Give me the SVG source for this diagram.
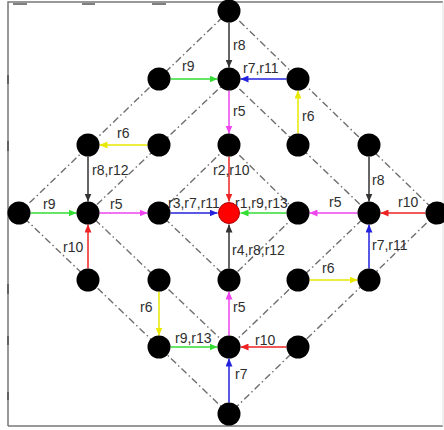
<svg xmlns="http://www.w3.org/2000/svg" width="444" height="430" viewBox="0 0 444 430">
<style>
.frame{fill:none;stroke:#777;stroke-width:1.5}
.tick{stroke:#555;stroke-width:1.6}
.dash{fill:none;stroke:#6e6e6e;stroke-width:1.4;stroke-dasharray:7,3,1.5,3}
.node{fill:#000}
.red{fill:#f00;stroke:#a00;stroke-width:1}
.e{stroke-width:1.5;fill:none}
.k{stroke:#333}.g{stroke:#33dd33}.y{stroke:#e8e800}.b{stroke:#2222dd}.m{stroke:#ee44ee}.r{stroke:#ee2222}
text{font-family:"Liberation Sans",Arial,sans-serif;font-size:14px;fill:#2e2e2e}
</style>
<defs>
<marker id="ak" markerWidth="8" markerHeight="7" refX="8" refY="3.5" orient="auto" markerUnits="userSpaceOnUse"><path d="M0,0 L8,3.5 L0,7 z" fill="#333"/></marker>
<marker id="ag" markerWidth="8" markerHeight="7" refX="8" refY="3.5" orient="auto" markerUnits="userSpaceOnUse"><path d="M0,0 L8,3.5 L0,7 z" fill="#33dd33"/></marker>
<marker id="ay" markerWidth="8" markerHeight="7" refX="8" refY="3.5" orient="auto" markerUnits="userSpaceOnUse"><path d="M0,0 L8,3.5 L0,7 z" fill="#e8e800"/></marker>
<marker id="ab" markerWidth="8" markerHeight="7" refX="8" refY="3.5" orient="auto" markerUnits="userSpaceOnUse"><path d="M0,0 L8,3.5 L0,7 z" fill="#2222dd"/></marker>
<marker id="am" markerWidth="8" markerHeight="7" refX="8" refY="3.5" orient="auto" markerUnits="userSpaceOnUse"><path d="M0,0 L8,3.5 L0,7 z" fill="#ee44ee"/></marker>
<marker id="ar" markerWidth="8" markerHeight="7" refX="8" refY="3.5" orient="auto" markerUnits="userSpaceOnUse"><path d="M0,0 L8,3.5 L0,7 z" fill="#ee2222"/></marker>
</defs>
<rect x="0" y="0" width="444" height="430" fill="#fff"/>
<g id="frame">
<path class="frame" d="M8,426 L8,2 L443,2"/>
<path class="frame" d="M8,426 L443,426"/>
<path d="M443,2 L443,426" stroke="#e4e4e4" stroke-width="1.2" fill="none"/>
<path class="tick" d="M13,4 H27 M82,4 H95 M152,4 H166 M8,75 V84 M8,141 V151 M8,284 V294 M8,336 V345 M8,392 V400"/>
</g>
<g id="grid">
<path class="dash" d="M229,145 L298,213 L229,280 L159,213 Z"/>
<path class="dash" d="M229,79 L369,213 L229,347 L88,213 Z"/>
<path class="dash" d="M229,11 L437,213 L229,414 L19,213 Z"/>
</g>
<g id="connectors">
<line class="e k" x1="229" y1="22.5" x2="229" y2="67.5" marker-end="url(#ak)"/>
<line class="e m" x1="229" y1="90.5" x2="229" y2="133.5" marker-end="url(#am)"/>
<line class="e y" x1="298" y1="133.5" x2="298" y2="90.5" marker-end="url(#ay)"/>
<line class="e k" x1="88" y1="156.5" x2="88" y2="201.5" marker-end="url(#ak)"/>
<line class="e r" x1="229" y1="156.5" x2="229" y2="201.5" marker-end="url(#ar)"/>
<line class="e k" x1="369" y1="156.5" x2="369" y2="201.5" marker-end="url(#ak)"/>
<line class="e k" x1="229" y1="268.5" x2="229" y2="224.5" marker-end="url(#ak)"/>
<line class="e b" x1="369" y1="268.5" x2="369" y2="224.5" marker-end="url(#ab)"/>
<line class="e r" x1="88" y1="268.5" x2="88" y2="224.5" marker-end="url(#ar)"/>
<line class="e y" x1="159" y1="291.5" x2="159" y2="335.5" marker-end="url(#ay)"/>
<line class="e m" x1="229" y1="335.5" x2="229" y2="291.5" marker-end="url(#am)"/>
<line class="e b" x1="229" y1="402.5" x2="229" y2="358.5" marker-end="url(#ab)"/>
<line class="e g" x1="170.5" y1="79" x2="217.5" y2="79" marker-end="url(#ag)"/>
<line class="e b" x1="286.5" y1="79" x2="240.5" y2="79" marker-end="url(#ab)"/>
<line class="e y" x1="147.5" y1="145" x2="99.5" y2="145" marker-end="url(#ay)"/>
<line class="e g" x1="30.5" y1="213" x2="76.5" y2="213" marker-end="url(#ag)"/>
<line class="e m" x1="99.5" y1="213" x2="147.5" y2="213" marker-end="url(#am)"/>
<line class="e b" x1="170.5" y1="213" x2="217.5" y2="213" marker-end="url(#ab)"/>
<line class="e g" x1="286.5" y1="213" x2="240.5" y2="213" marker-end="url(#ag)"/>
<line class="e m" x1="357.5" y1="213" x2="309.5" y2="213" marker-end="url(#am)"/>
<line class="e r" x1="425.5" y1="213" x2="380.5" y2="213" marker-end="url(#ar)"/>
<line class="e y" x1="309.5" y1="280" x2="357.5" y2="280" marker-end="url(#ay)"/>
<line class="e g" x1="170.5" y1="347" x2="217.5" y2="347" marker-end="url(#ag)"/>
<line class="e r" x1="286.5" y1="347" x2="240.5" y2="347" marker-end="url(#ar)"/>
</g>
<g id="labels">
<text x="233" y="50">r8</text>
<text x="182" y="71">r9</text>
<text x="243" y="73">r7,r11</text>
<text x="233" y="116">r5</text>
<text x="302" y="121">r6</text>
<text x="117" y="138">r6</text>
<text x="92" y="175">r8,r12</text>
<text x="213" y="175">r2,r10</text>
<text x="372" y="185">r8</text>
<text x="43" y="209">r9</text>
<text x="110" y="209">r5</text>
<text x="168" y="208">r3,r7,r11</text>
<text x="235" y="208">r1,r9,r13</text>
<text x="329" y="207">r5</text>
<text x="398" y="207">r10</text>
<text x="232" y="255">r4,r8,r12</text>
<text x="372" y="250">r7,r11</text>
<text x="322" y="273">r6</text>
<text x="63" y="252">r10</text>
<text x="140" y="312">r6</text>
<text x="175" y="343">r9,r13</text>
<text x="233" y="312">r5</text>
<text x="255" y="345">r10</text>
<text x="235" y="379">r7</text>
</g>
<g id="n1"><circle class="node" cx="229" cy="11" r="11.5"/></g>
<g id="n2"><circle class="node" cx="159" cy="79" r="11.5"/></g>
<g id="n3"><circle class="node" cx="229" cy="79" r="11.5"/></g>
<g id="n4"><circle class="node" cx="298" cy="79" r="11.5"/></g>
<g id="n5"><circle class="node" cx="88" cy="145" r="11.5"/></g>
<g id="n6"><circle class="node" cx="159" cy="145" r="11.5"/></g>
<g id="n7"><circle class="node" cx="229" cy="145" r="11.5"/></g>
<g id="n8"><circle class="node" cx="298" cy="145" r="11.5"/></g>
<g id="n9"><circle class="node" cx="369" cy="145" r="11.5"/></g>
<g id="n10"><circle class="node" cx="19" cy="213" r="11.5"/></g>
<g id="n11"><circle class="node" cx="88" cy="213" r="11.5"/></g>
<g id="n12"><circle class="node" cx="159" cy="213" r="11.5"/></g>
<g id="n13"><circle class="red" cx="229" cy="213" r="10.5"/></g>
<g id="n14"><circle class="node" cx="298" cy="213" r="11.5"/></g>
<g id="n15"><circle class="node" cx="369" cy="213" r="11.5"/></g>
<g id="n16"><circle class="node" cx="437" cy="213" r="11.5"/></g>
<g id="n17"><circle class="node" cx="88" cy="280" r="11.5"/></g>
<g id="n18"><circle class="node" cx="159" cy="280" r="11.5"/></g>
<g id="n19"><circle class="node" cx="229" cy="280" r="11.5"/></g>
<g id="n20"><circle class="node" cx="298" cy="280" r="11.5"/></g>
<g id="n21"><circle class="node" cx="369" cy="280" r="11.5"/></g>
<g id="n22"><circle class="node" cx="159" cy="347" r="11.5"/></g>
<g id="n23"><circle class="node" cx="229" cy="347" r="11.5"/></g>
<g id="n24"><circle class="node" cx="298" cy="347" r="11.5"/></g>
<g id="n25"><circle class="node" cx="229" cy="414" r="11.5"/></g>
</svg>
